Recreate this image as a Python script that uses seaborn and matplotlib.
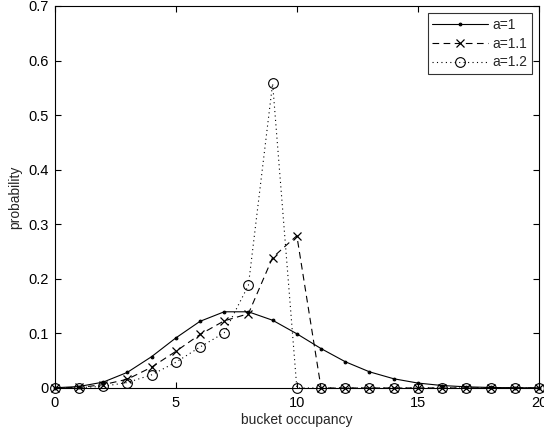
import numpy as np
import pandas as pd
import matplotlib
matplotlib.use("Agg")
import matplotlib.pyplot as plt
import seaborn as sns

occupancy = list(range(21))
p_a1 = [0.0003, 0.0027, 0.0107, 0.0286, 0.0573, 0.0916, 0.1221, 0.1396, 0.1396, 0.1241,
        0.0993, 0.0722, 0.0481, 0.0296, 0.0169, 0.0090, 0.0045, 0.0021, 0.0009, 0.0004, 0.0002]
p_a11 = [0.0, 0.001, 0.006, 0.016, 0.038, 0.067, 0.098, 0.123, 0.136, 0.239,
         0.279, 0, 0, 0, 0, 0, 0, 0, 0, 0, 0]
p_a12 = [0.0, 0.0005, 0.003, 0.010, 0.024, 0.047, 0.075, 0.101, 0.188, 0.558,
         0, 0, 0, 0, 0, 0, 0, 0, 0, 0, 0]
labels = ["a=1", "a=1.1", "a=1.2"]

sns.set_style("white")
plt.rcParams['font.family'] = ['Liberation Sans', 'DejaVu Sans']

fig = plt.figure(figsize=(5.44, 4.32), dpi=100)
ax = fig.add_axes([0.1005, 0.1019, 0.8903, 0.8843])

sns.lineplot(x=occupancy, y=p_a1, ax=ax, color='black', linestyle='-', linewidth=0.8,
             marker='.', markersize=4, markeredgecolor='black', markerfacecolor='black',
             label=labels[0], clip_on=False)
sns.lineplot(x=occupancy, y=p_a11, ax=ax, color='black', linestyle=(0, (6, 4)), linewidth=0.8,
             marker='x', markersize=5.5, markeredgewidth=0.9, markeredgecolor='black',
             label=labels[1], clip_on=False)
sns.lineplot(x=occupancy, y=p_a12, ax=ax, color='black', linestyle=(0, (1, 3)), linewidth=0.8,
             marker='o', markersize=7, markerfacecolor='none', markeredgecolor='black',
             markeredgewidth=0.8, label=labels[2], clip_on=False)

ax.set_xlim(0, 20)
ax.set_ylim(0, 0.7)
ax.set_xticks([0, 5, 10, 15, 20])
ax.set_yticks(np.arange(0, 0.71, 0.1))
ax.set_yticklabels(['0', '0.1', '0.2', '0.3', '0.4', '0.5', '0.6', '0.7'])
ax.tick_params(direction='in', length=4, width=0.8, labelsize=10.5, colors='black',
               top=True, right=True, bottom=True, left=True)
ax.tick_params(axis='x', pad=6)
ax.tick_params(axis='y', pad=4)
for s in ax.spines.values():
    s.set_color('black')
    s.set_linewidth(0.8)
ax.set_xlabel('bucket occupancy', fontsize=10, labelpad=2)
ax.set_ylabel('probability', fontsize=10, labelpad=5)

leg = ax.legend(loc='upper right', fontsize=10, frameon=True, fancybox=False,
                edgecolor='black', handlelength=4.0, borderaxespad=0.5,
                labelspacing=0.35, handletextpad=0.3, borderpad=0.35)
leg.get_frame().set_linewidth(0.8)

fig.savefig('out.png', dpi=100)
